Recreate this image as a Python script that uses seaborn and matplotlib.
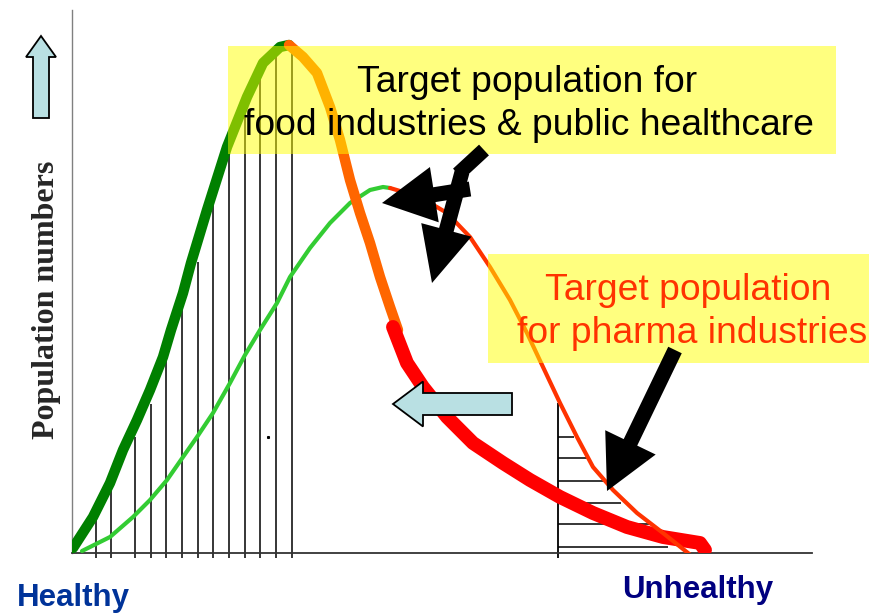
import matplotlib.pyplot as plt
from matplotlib.patches import FancyArrow, Rectangle
import seaborn as sns
import pandas as pd

# all positions in pixels (x to the right, y downwards)

# thick curve: population as it is shifted towards "unhealthy"
thick_green_x = [73, 93, 110, 123, 137, 150, 163, 171, 183, 191, 207, 227, 247, 263, 280, 289]
thick_green_y = [548, 517, 483, 450, 420, 390, 357, 330, 293, 263, 210, 147, 97, 63, 47, 45]
thick_orange_x = [289, 303, 317, 330, 340, 350, 360, 370, 380, 390, 398]
thick_orange_y = [45, 57, 73, 107, 140, 180, 213, 243, 277, 307, 330]
thick_red_x = [393, 407, 423, 447, 473, 503, 530, 560, 593, 627, 663, 700, 705]
thick_red_y = [327, 363, 387, 417, 443, 463, 480, 497, 513, 527, 537, 543, 550]

# thin curve: the healthier reference population
thin_green_x = [82, 110, 133, 150, 167, 183, 197, 213, 230, 245, 260, 277, 290, 310, 330, 350, 370, 383, 390]
thin_green_y = [551, 537, 517, 500, 480, 457, 437, 413, 383, 355, 330, 303, 277, 248, 223, 203, 190, 187, 188]
thin_red_x = [390, 420, 447, 470, 490, 510, 527, 543, 560, 577, 593, 613, 637, 663, 693]
thin_red_y = [188, 197, 213, 237, 267, 300, 333, 367, 403, 437, 467, 490, 513, 533, 557]

# hatching under the curves
vhatch_x = [96, 111, 135, 151, 166, 182, 198, 213, 229, 245, 260, 276, 292]
vhatch_top = [513, 481, 437, 404, 349, 305, 262, 183, 155, 97, 75, 53, 53]
hhatch_y = [437, 458, 481, 503, 524, 547]
hhatch_end = [574, 590, 607, 621, 653, 668]

food_lines = ["Target population for", "food industries & public healthcare"]
pharma_lines = ["Target population", "for pharma industries"]

sns.set_style("white")
plt.rcParams["font.family"] = ["Liberation Sans", "DejaVu Sans"]

fig = plt.figure(figsize=(8.7, 6.13), dpi=100)
ax = fig.add_axes([72 / 870, 60 / 613, 740 / 870, 543 / 613])
ax.set_xlim(72, 812)
ax.set_ylim(553, 10)
ax.set_xticks([])
ax.set_yticks([])
for side in ["top", "right"]:
    ax.spines[side].set_visible(False)
ax.spines["left"].set_color("#808080")
ax.spines["left"].set_linewidth(1.0)
ax.spines["bottom"].set_color("#333333")
ax.spines["bottom"].set_linewidth(1.3)

# hatching
ax.vlines(vhatch_x, vhatch_top, 558, color="black", lw=1.1, zorder=2, clip_on=False)
ax.vlines(558, 403, 558, color="black", lw=1.3, zorder=2, clip_on=False)
ax.hlines(hhatch_y, 558, hhatch_end, color="black", lw=1.1, zorder=2)
ax.plot([268], [437], "s", ms=1.2, color="black")


def curve(xs, ys, color, lw, z):
    df = pd.DataFrame({"x": xs, "y": ys})
    sns.lineplot(data=df, x="x", y="y", sort=False, estimator=None, ax=ax,
                 color=color, linewidth=lw, solid_capstyle="round",
                 solid_joinstyle="round", zorder=z)


curve(thin_green_x, thin_green_y, "#33cc33", 3.0, 3)
curve(thick_green_x, thick_green_y, "#008000", 7.5, 4)
curve(thick_orange_x, thick_orange_y, "#ff6600", 7.5, 4)
curve(thick_red_x, thick_red_y, "#ff0000", 10, 4)
curve(thin_red_x, thin_red_y, "#ff3300", 3.0, 5)
ax.set_xlabel("")
ax.set_ylabel("")

# yellow label boxes
ax.add_patch(Rectangle((228, 46), 608, 108, facecolor="yellow", alpha=0.5,
                       edgecolor="none", zorder=6, clip_on=False))
ax.add_patch(Rectangle((488, 254), 390, 109, facecolor="yellow", alpha=0.5,
                       edgecolor="none", zorder=6, clip_on=False))

ax.text(527, 92, food_lines[0], ha="center", va="baseline", fontsize=26.8, color="black", zorder=8)
ax.text(529, 135, food_lines[1], ha="center", va="baseline", fontsize=26.8, color="black", zorder=8)
ax.text(688, 300, pharma_lines[0], ha="center", va="baseline", fontsize=26.8, color="#ff3300", zorder=8)
ax.text(692, 343, pharma_lines[1], ha="center", va="baseline", fontsize=26.8, color="#ff3300", zorder=8)

# black pointer arrows
black = dict(color="black", length_includes_head=True, zorder=7, clip_on=False, lw=0)
ax.add_patch(FancyArrow(470, 189, -88, 14, width=15, head_width=56, head_length=53, **black))
ax.add_patch(FancyArrow(462, 172, -30, 111, width=15, head_width=52, head_length=55, **black))
ax.plot([458, 484], [174, 150], color="black", lw=10.5, solid_capstyle="butt", zorder=7)
ax.add_patch(FancyArrow(675, 350, -68, 141, width=15, head_width=56, head_length=54, **black))

# light blue arrows
blue = dict(facecolor="#b9e0e3", edgecolor="black", lw=1.3, length_includes_head=True,
            zorder=7, clip_on=False)
ax.add_patch(FancyArrow(41, 118, 0, -82, width=16, head_width=30, head_length=21, **blue))
ax.add_patch(FancyArrow(512, 404, -119, 0, width=22, head_width=45, head_length=30, **blue))

# axis labels
ax.text(47, 300, "Population numbers", rotation=90, ha="center", va="center",
        fontsize=23, weight="bold", family=["Liberation Serif", "DejaVu Serif"])
ax.text(17, 606, "Healthy", ha="left", va="baseline", fontsize=22.5, weight="bold", color="#003399")
ax.text(622, 598, "Unhealthy", ha="left", va="baseline", fontsize=22.5, weight="bold", color="#000080")

fig.savefig("out.png", dpi=100)
